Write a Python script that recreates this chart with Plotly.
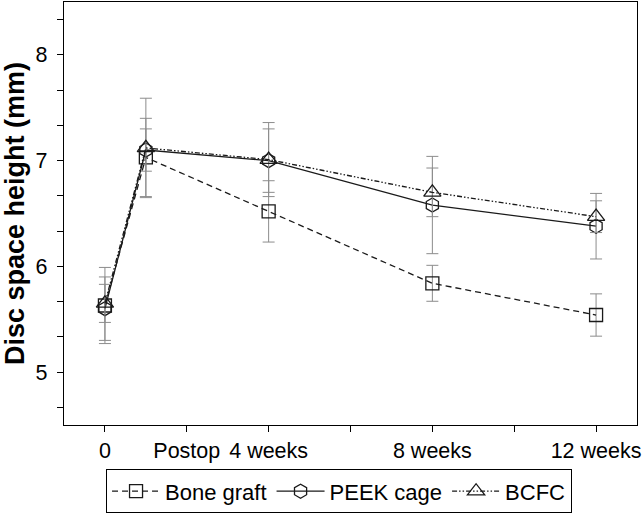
import plotly.graph_objects as go

# Data
weeks = [0, 1, 4, 8, 12]
bone_graft = [5.63, 7.03, 6.52, 5.84, 5.54]
bone_graft_err = [0.36, 0.37, 0.29, 0.17, 0.20]
peek_cage = [5.60, 7.10, 7.00, 6.58, 6.38]
peek_cage_err = [0.30, 0.20, 0.30, 0.46, 0.31]
bcfc = [5.65, 7.12, 7.01, 6.70, 6.47]
bcfc_err = [0.18, 0.47, 0.35, 0.23, 0.15]

x_tickvals = [0, 2, 4, 6, 8, 10, 12]
x_ticktext = ["0", "Postop", "4 weeks", "", "8 weeks", "", "12 weeks"]
y_tickvals = [14/3, 5, 16/3, 17/3, 6, 19/3, 20/3, 7, 22/3, 23/3, 8, 25/3]
y_ticktext = ["", "5", "", "", "6", "", "", "7", "", "", "8", ""]

FONT = "Liberation Sans, Arial, sans-serif"
LINE = "#1a1a1a"
ERR = "#8c8c8c"

def err(vals):
    return dict(type="data", array=vals, visible=True, color=ERR, thickness=1, width=6)

fig = go.Figure()
fig.add_trace(go.Scatter(
    x=weeks, y=bone_graft, name="Bone graft", mode="lines+markers",
    line=dict(color=LINE, width=1.3, dash="6px,4px"),
    marker=dict(symbol="square-open", size=13, color=LINE, line=dict(width=1.3)),
    error_y=err(bone_graft_err),
))
fig.add_trace(go.Scatter(
    x=weeks, y=peek_cage, name="PEEK cage", mode="lines+markers",
    line=dict(color=LINE, width=1.3, dash="solid"),
    marker=dict(symbol="hexagon-open", size=14, color=LINE, line=dict(width=1.3)),
    error_y=err(peek_cage_err),
))
fig.add_trace(go.Scatter(
    x=weeks, y=bcfc, name="BCFC", mode="lines+markers",
    line=dict(color=LINE, width=1.3, dash="5px,2px,1.5px,2px,1.5px,2px"),
    marker=dict(symbol="triangle-up-open", size=15, color=LINE, line=dict(width=1.3)),
    error_y=err(bcfc_err),
))

fig.update_layout(
    width=644, height=515,
    margin=dict(l=64, r=7, t=2, b=90),
    paper_bgcolor="white", plot_bgcolor="white",
    font=dict(family=FONT, size=21, color="black"),
    showlegend=True,
    legend=dict(
        orientation="h", x=0.48, xanchor="center", y=-0.105, yanchor="top",
        bordercolor="black", borderwidth=1, font=dict(size=22, color="black"),
        itemwidth=48, tracegroupgap=0,
    ),
    xaxis=dict(
        range=[-1, 13], tickmode="array", tickvals=x_tickvals, ticktext=x_ticktext,
        ticks="outside", ticklen=6, tickcolor="black", tickwidth=1,
        showline=True, linecolor="black", linewidth=1.3, mirror=True,
        showgrid=False, zeroline=False, tickfont=dict(size=21.5), automargin=False,
    ),
    yaxis=dict(
        range=[4.5, 8.5], tickmode="array", tickvals=y_tickvals, ticktext=y_ticktext,
        ticks="outside", ticklen=6, tickcolor="black", tickwidth=1,
        showline=True, linecolor="black", linewidth=1.3, mirror=True,
        showgrid=False, zeroline=False, tickfont=dict(size=21.5), automargin=False,
        ticklabelstandoff=5,
        title=dict(text="<b>Disc space height (mm)</b>", font=dict(size=27), standoff=10),
    ),
)

fig.write_html(
    "out.html",
    config={"displayModeBar": False},
    post_script="document.body.style.margin='0';document.body.style.padding='0';",
)
